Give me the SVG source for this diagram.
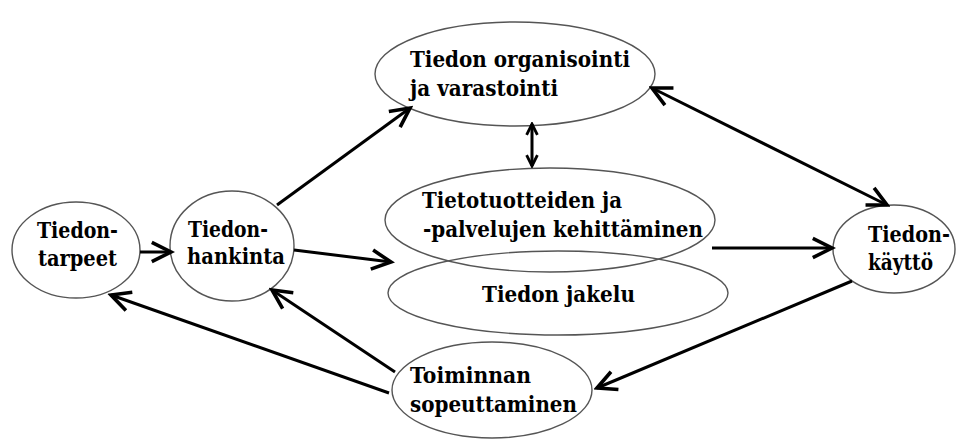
<svg xmlns="http://www.w3.org/2000/svg" width="967" height="439" viewBox="0 0 967 439">
<defs>
<marker id="ah" markerUnits="userSpaceOnUse" markerWidth="24" markerHeight="24" refX="17" refY="9" orient="auto-start-reverse" viewBox="0 0 20 18">
<path d="M1,1 L17,9 L1,17" fill="none" stroke="#000" stroke-width="3"/>
</marker>
<marker id="ahs" markerUnits="userSpaceOnUse" markerWidth="14" markerHeight="14" refX="11" refY="6" orient="auto-start-reverse" viewBox="0 0 13 12">
<path d="M1,1 L11,6 L1,11" fill="none" stroke="#000" stroke-width="2.6"/>
</marker>
<style>
.n{fill:#fff;stroke:#555;stroke-width:1.4}
.t{font-family:'DejaVu Serif','Liberation Serif',serif;font-weight:bold;font-size:23px;fill:#000}
.c line{stroke:#000;stroke-width:3}
</style>
</defs>
<rect width="967" height="439" fill="#fff"/>
<g id="tarpeet"><ellipse class="n" cx="76" cy="250" rx="64" ry="48"/>
<text class="t" x="37" y="238" textLength="81" lengthAdjust="spacingAndGlyphs">Tiedon-</text>
<text class="t" x="38" y="266" textLength="79" lengthAdjust="spacingAndGlyphs">tarpeet</text></g>
<g id="hankinta"><ellipse class="n" cx="232" cy="246" rx="62" ry="55"/>
<text class="t" x="188" y="237" textLength="80" lengthAdjust="spacingAndGlyphs">Tiedon-</text>
<text class="t" x="187" y="264" textLength="98" lengthAdjust="spacingAndGlyphs">hankinta</text></g>
<g id="organisointi"><ellipse class="n" cx="515" cy="74" rx="140" ry="52"/>
<text class="t" x="410" y="67" textLength="220" lengthAdjust="spacingAndGlyphs">Tiedon organisointi</text>
<text class="t" x="410" y="96" textLength="148" lengthAdjust="spacingAndGlyphs">ja varastointi</text></g>
<g id="jakelu"><ellipse class="n" cx="558" cy="293" rx="170" ry="42"/>
<text class="t" x="482" y="302" textLength="153" lengthAdjust="spacingAndGlyphs">Tiedon jakelu</text></g>
<g id="tietotuotteet"><ellipse class="n" cx="550" cy="220" rx="165" ry="52" style="fill:none"/>
<text class="t" x="422" y="208" textLength="200" lengthAdjust="spacingAndGlyphs">Tietotuotteiden ja</text>
<text class="t" x="423" y="237" textLength="280" lengthAdjust="spacingAndGlyphs">-palvelujen kehittäminen</text></g>
<g id="kaytto"><ellipse class="n" cx="894" cy="249" rx="61" ry="44"/>
<text class="t" x="868" y="242" textLength="82" lengthAdjust="spacingAndGlyphs">Tiedon-</text>
<text class="t" x="868" y="270" textLength="65" lengthAdjust="spacingAndGlyphs">käyttö</text></g>
<g id="sopeuttaminen"><ellipse class="n" cx="492" cy="390" rx="100" ry="48"/>
<text class="t" x="410" y="383" textLength="121" lengthAdjust="spacingAndGlyphs">Toiminnan</text>
<text class="t" x="410" y="412" textLength="167" lengthAdjust="spacingAndGlyphs">sopeuttaminen</text></g>
<g id="connectors" class="c">
<line x1="140" y1="252" x2="171" y2="252" marker-end="url(#ah)"/>
<line x1="277" y1="205" x2="410" y2="108" marker-end="url(#ah)"/>
<line x1="294" y1="250" x2="391" y2="262" marker-end="url(#ah)"/>
<line x1="532" y1="124" x2="532" y2="166" marker-start="url(#ahs)" marker-end="url(#ahs)"/>
<line x1="652" y1="88" x2="887" y2="205" marker-start="url(#ah)" marker-end="url(#ah)"/>
<line x1="712" y1="248" x2="832" y2="248" marker-end="url(#ah)"/>
<line x1="852" y1="281" x2="597" y2="388" marker-end="url(#ah)"/>
<line x1="395" y1="372" x2="272" y2="290" marker-end="url(#ah)"/>
<line x1="389" y1="393" x2="111" y2="295" marker-end="url(#ah)"/>
</g>
</svg>
